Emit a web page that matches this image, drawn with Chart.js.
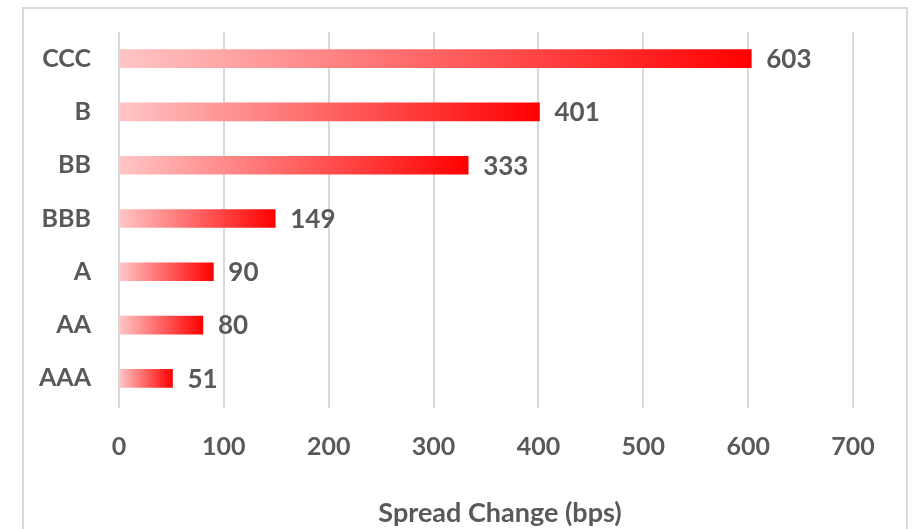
<!DOCTYPE html>
<html lang="en">
<head>
    <meta charset="UTF-8">
    <title>Spread Change</title>
    <script src="https://cdn.jsdelivr.net/npm/chart.js@4.4.0/dist/chart.umd.min.js"></script>
    <style>
        html, body { margin: 0; padding: 0; background: #fff; overflow: hidden; }
        .frame {
            position: absolute; left: 22px; top: 7px;
            width: 882px; height: 600px;
            border: 2px solid #d9d9d9;
        }
        .containerChart {
            position: absolute; left: 0; top: 0;
            width: 912px; height: 529px;
        }
    </style>
</head>
<body>
    <div class="frame"></div>
    <div class="containerChart">
        <canvas id="spreadChart"></canvas>
    </div>

    <script>
        // ratings, top to bottom
        var ratings = ['CCC', 'B', 'BB', 'BBB', 'A', 'AA', 'AAA'];
        var spreadChange = [603, 401, 333, 149, 90, 80, 51];
        var xTicks = [0, 100, 200, 300, 400, 500, 600, 700];
        var axisTitle = 'Spread Change (bps)';

        var textGray = '#595959';
        var fontName = 'Lato, "Open Sans", sans-serif';

        // each bar fades from pale pink at 0 to full red at its own end
        function barGradient(context) {
            var chart = context.chart;
            if (!chart.chartArea || !chart.scales.x) {
                return '#ff4040';
            }
            var xScale = chart.scales.x;
            var x0 = xScale.getPixelForValue(0);
            var x1 = xScale.getPixelForValue(context.raw);
            var g = chart.ctx.createLinearGradient(x0, 0, x1, 0);
            g.addColorStop(0, '#ffc6c6');
            g.addColorStop(1, '#ff0000');
            return g;
        }

        var valueLabels = {
            id: 'valueLabels',
            afterDatasetsDraw: function (chart) {
                var ctx = chart.ctx;
                var meta = chart.getDatasetMeta(0);
                ctx.save();
                ctx.font = 'bold 26px ' + fontName;
                ctx.fillStyle = textGray;
                ctx.textAlign = 'left';
                ctx.textBaseline = 'middle';
                meta.data.forEach(function (bar, i) {
                    ctx.fillText(String(spreadChange[i]), bar.x + 15, bar.y + 1);
                });

                // axis title sits a little right of the plot centre, like the original
                var area = chart.chartArea;
                ctx.font = 'bold 27px ' + fontName;
                ctx.textAlign = 'center';
                ctx.fillText(axisTitle, (area.left + area.right) / 2 + 14, area.bottom + 108);
                ctx.restore();
            }
        };

        var ctx = document.getElementById('spreadChart').getContext('2d');
        var myChart = new Chart(ctx, {
            type: 'bar',
            data: {
                labels: ratings,
                datasets: [{
                    label: axisTitle,
                    data: spreadChange,
                    backgroundColor: barGradient,
                    borderWidth: 0,
                    barThickness: 18
                }]
            },
            plugins: [valueLabels],
            options: {
                indexAxis: 'y',
                responsive: true,
                maintainAspectRatio: false,
                animation: false,
                layout: {
                    padding: { top: 32, right: 59, left: 0, bottom: 0 }
                },
                plugins: {
                    legend: { display: false },
                    tooltip: { enabled: false }
                },
                scales: {
                    x: {
                        min: 0,
                        max: 700,
                        afterBuildTicks: function (scale) {
                            scale.ticks = xTicks.map(function (v) { return { value: v }; });
                        },
                        afterFit: function (scale) {
                            scale.height = 124;
                        },
                        grid: {
                            color: '#d9d9d9',
                            lineWidth: 2,
                            drawTicks: true,
                            tickLength: 3
                        },
                        border: { display: false },
                        ticks: {
                            color: textGray,
                            font: { family: fontName, size: 25, weight: 'bold' },
                            padding: 24,
                            maxRotation: 0
                        }
                    },
                    y: {
                        afterFit: function (scale) {
                            scale.width = 119;
                            scale.paddingTop = 0;
                            scale.paddingBottom = 0;
                        },
                        grid: { display: false, drawTicks: false },
                        border: { display: false },
                        ticks: {
                            color: textGray,
                            font: { family: fontName, size: 25, weight: 'bold' },
                            padding: 28
                        }
                    }
                }
            }
        });
    </script>
</body>
</html>
